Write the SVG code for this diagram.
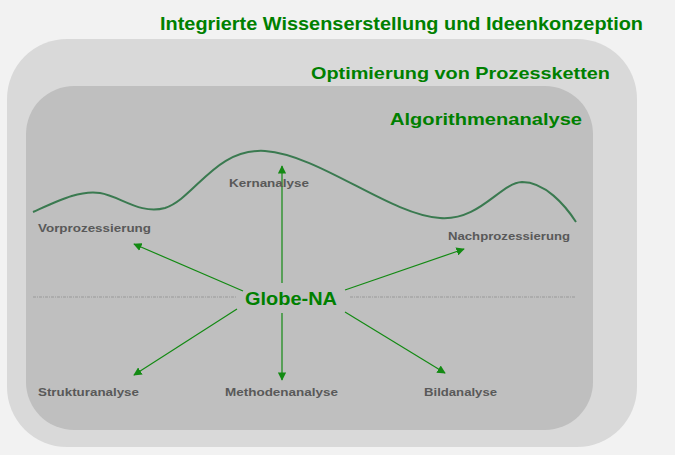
<svg xmlns="http://www.w3.org/2000/svg" width="675" height="455" viewBox="0 0 675 455">
<defs>
<style>
.t{font-family:"Liberation Sans",Arial,sans-serif;font-weight:bold;fill:#008000}
.l{font-family:"Liberation Sans",Arial,sans-serif;font-weight:bold;fill:#595959;font-size:11.5px}
.a{stroke:#138a13;stroke-width:1.2;fill:none;marker-end:url(#ah)}
</style>
<marker id="ah" viewBox="0 0 10 10" refX="9" refY="5" markerWidth="7" markerHeight="7" orient="auto"><path d="M0,0L10,5L0,10z" fill="#138a13"/></marker>
</defs>
<rect width="675" height="455" fill="#f2f2f2"/>
<g id="outer"><rect x="7" y="39" width="630" height="408" rx="60" fill="#d9d9d9"/><text class="t" x="160" y="30" font-size="18" textLength="483" lengthAdjust="spacingAndGlyphs">Integrierte Wissenserstellung und Ideenkonzeption</text></g>
<g id="middle"><text class="t" x="311" y="79" font-size="17" textLength="299" lengthAdjust="spacingAndGlyphs">Optimierung von Prozessketten</text></g>
<g id="inner"><rect x="26" y="86" width="567" height="344" rx="48" fill="#bfbfbf"/><text class="t" x="390" y="125" font-size="17" textLength="192" lengthAdjust="spacingAndGlyphs">Algorithmenanalyse</text></g>
<path d="M33,212 C60,200 80,190 100,193 C120,196 140,215 165,208 C195,198 215,148 265,151 C320,155 390,215 440,218 C480,221 500,183 522,182 C545,182 565,205 576,222" stroke="#3a7a50" stroke-width="2" fill="none"/>
<g id="axis" stroke="#999" stroke-width="1" stroke-dasharray="3,1,1,1"><line x1="33" y1="297" x2="237" y2="297"/><line x1="350" y1="297" x2="575" y2="297"/></g>
<g id="connectors">
<line class="a" x1="282" y1="283" x2="282" y2="166"/>
<line class="a" x1="243" y1="291" x2="134" y2="244"/>
<line class="a" x1="345" y1="290" x2="464" y2="249"/>
<line class="a" x1="237" y1="309" x2="134" y2="375"/>
<line class="a" x1="282" y1="313" x2="282" y2="380"/>
<line class="a" x1="345" y1="312" x2="445" y2="373"/>
</g>
<g id="center"><text class="t" x="245" y="305" font-size="19" textLength="92" lengthAdjust="spacingAndGlyphs">Globe-NA</text></g>
<g id="n1"><text class="l" x="38" y="232" textLength="113" lengthAdjust="spacingAndGlyphs">Vorprozessierung</text></g>
<g id="n2"><text class="l" x="229" y="187" textLength="80" lengthAdjust="spacingAndGlyphs">Kernanalyse</text></g>
<g id="n3"><text class="l" x="448" y="240" textLength="122" lengthAdjust="spacingAndGlyphs">Nachprozessierung</text></g>
<g id="n4"><text class="l" x="38" y="396" textLength="101" lengthAdjust="spacingAndGlyphs">Strukturanalyse</text></g>
<g id="n5"><text class="l" x="225" y="396" textLength="113" lengthAdjust="spacingAndGlyphs">Methodenanalyse</text></g>
<g id="n6"><text class="l" x="424" y="396" textLength="73" lengthAdjust="spacingAndGlyphs">Bildanalyse</text></g>
</svg>
